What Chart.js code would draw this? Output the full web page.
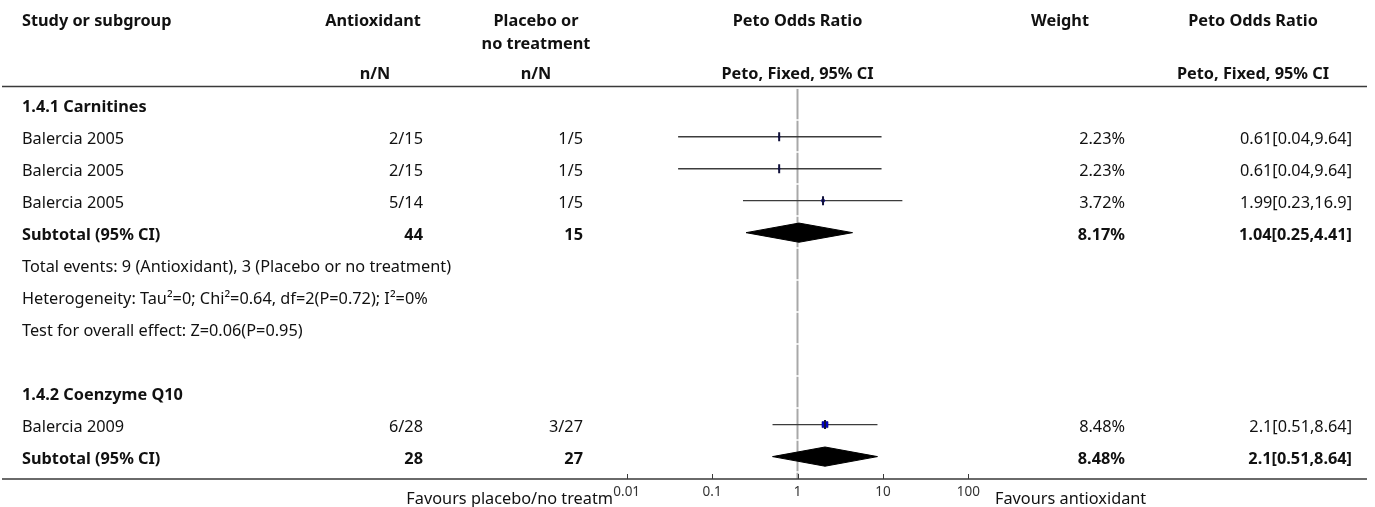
<!DOCTYPE html>
<html>
<head>
<meta charset="utf-8">
<script src="https://cdn.jsdelivr.net/npm/chart.js@4.4.1/dist/chart.umd.min.js"></script>
<style>
  body { margin: 0; background: #fff; }
  #wrap { width: 1375px; height: 507px; }
</style>
</head>
<body>
<div id="wrap"><canvas id="forest"></canvas></div>
<script>
// study rows
const studyNames = ["Balercia 2005", "Balercia 2005", "Balercia 2005", "Balercia 2009"];
const studyRows = [1, 2, 3, 10];
const antioxEvents = ["2/15", "2/15", "5/14", "6/28"];
const placeboEvents = ["1/5", "1/5", "1/5", "3/27"];
const studyOR = [0.61, 0.61, 1.99, 2.1];
const studyLow = [0.04, 0.04, 0.23, 0.51];
const studyHigh = [9.64, 9.64, 16.9, 8.64];
const studyWeight = [2.23, 2.23, 3.72, 8.48];

// subgroups
const groupTitles = ["1.4.1 Carnitines", "1.4.2 Coenzyme Q10"];
const groupTitleRows = [0, 9];
const subtotalRows = [4, 11];
const subtotalAntiox = [44, 28];
const subtotalPlacebo = [15, 27];
const subtotalWeight = [8.17, 8.48];
const subtotalOR = [1.04, 2.1];
const subtotalLow = [0.25, 0.51];
const subtotalHigh = [4.41, 8.64];

const infoLines = [
  "Total events: 9 (Antioxidant), 3 (Placebo or no treatment)",
  "Heterogeneity: Tau\u00b2=0; Chi\u00b2=0.64, df=2(P=0.72); I\u00b2=0%",
  "Test for overall effect: Z=0.06(P=0.95)"
];
const infoRows = [5, 6, 7];

const xTicks = [0.01, 0.1, 1, 10, 100];
const xTickLabels = ["0.01", "0.1", "1", "10", "100"];

const FONT = "'Noto Sans', 'Open Sans', sans-serif";
const SIZE = 16.3;
const DIAMOND_H = 0.3;

const datasets = [];

// line of no effect
datasets.push({
  data: [{ x: 1, y: -0.5 }, { x: 1, y: 11.7 }],
  showLine: true, pointRadius: 0, borderColor: "#a8a8a8", borderWidth: 2,
  borderDash: [30.5, 1.5], order: 5
});

// confidence intervals
studyOR.forEach((v, i) => {
  datasets.push({
    data: [{ x: studyLow[i], y: studyRows[i] }, { x: studyHigh[i], y: studyRows[i] }],
    showLine: true, pointRadius: 0, borderColor: "#3c3c3c", borderWidth: 1.4, order: 3
  });
});

// weighted squares
datasets.push({
  data: studyOR.map((v, i) => ({ x: v, y: studyRows[i] })),
  pointStyle: "rect",
  pointRadius: studyWeight.map(w => (6 * w / 8.48) / Math.SQRT2),
  backgroundColor: "#0000d0", borderColor: "#00007a", borderWidth: 0.6, order: 2
});

// centre ticks
datasets.push({
  data: studyOR.map((v, i) => ({ x: v, y: studyRows[i] })),
  pointStyle: "line", pointRotation: 90, pointRadius: 4.5,
  borderColor: "#10103a", borderWidth: 2, order: 1
});

// subtotal diamonds
subtotalOR.forEach((v, i) => {
  const r = subtotalRows[i];
  datasets.push({
    data: [
      { x: subtotalLow[i], y: r }, { x: v, y: r - DIAMOND_H },
      { x: subtotalHigh[i], y: r }, { x: v, y: r + DIAMOND_H },
      { x: subtotalLow[i], y: r }
    ],
    showLine: true, pointRadius: 0, fill: "shape",
    backgroundColor: "#000", borderColor: "#000", borderWidth: 1, order: 4
  });
});

const tablePlugin = {
  id: "table",
  afterDraw(chart) {
    const ctx = chart.ctx;
    const y = chart.scales.y;
    const x = chart.scales.x;
    const rowY = r => y.getPixelForValue(r) + 2.5;
    const txt = (s, px, py, align, bold) => {
      ctx.font = (bold ? "bold " : "") + SIZE + "px " + FONT;
      ctx.textAlign = align;
      ctx.fillText(s, px, py);
    };
    ctx.save();
    ctx.fillStyle = "#111";
    ctx.textBaseline = "middle";

    // header
    txt("Study or subgroup", 22, 21, "left", true);
    txt("Antioxidant", 373, 21, "center", true);
    txt("Placebo or", 536, 21, "center", true);
    txt("no treatment", 536, 44, "center", true);
    txt("Peto Odds Ratio", 797.5, 21, "center", true);
    txt("Weight", 1060, 21, "center", true);
    txt("Peto Odds Ratio", 1253, 21, "center", true);
    txt("n/N", 375, 74, "center", true);
    txt("n/N", 536, 74, "center", true);
    txt("Peto, Fixed, 95% CI", 797.5, 74, "center", true);
    txt("Peto, Fixed, 95% CI", 1253, 74, "center", true);

    groupTitles.forEach((t, i) => txt(t, 22, rowY(groupTitleRows[i]), "left", true));
    studyNames.forEach((n, i) => {
      const py = rowY(studyRows[i]);
      txt(n, 22, py, "left", false);
      txt(antioxEvents[i], 423, py, "right", false);
      txt(placeboEvents[i], 583, py, "right", false);
      txt(studyWeight[i].toFixed(2) + "%", 1125, py, "right", false);
      txt(studyOR[i] + "[" + studyLow[i] + "," + studyHigh[i] + "]", 1352, py, "right", false);
    });
    subtotalRows.forEach((r, i) => {
      const py = rowY(r);
      txt("Subtotal (95% CI)", 22, py, "left", true);
      txt(String(subtotalAntiox[i]), 423, py, "right", true);
      txt(String(subtotalPlacebo[i]), 583, py, "right", true);
      txt(subtotalWeight[i].toFixed(2) + "%", 1125, py, "right", true);
      txt(subtotalOR[i] + "[" + subtotalLow[i] + "," + subtotalHigh[i] + "]", 1352, py, "right", true);
    });
    infoLines.forEach((t, i) => txt(t, 22, rowY(infoRows[i]), "left", false));

    // rules
    ctx.strokeStyle = "#3a3a3a";
    ctx.lineWidth = 1.6;
    ctx.beginPath();
    ctx.moveTo(2, 86.5); ctx.lineTo(1367, 86.5);
    const by = chart.chartArea.bottom;
    ctx.moveTo(2, by); ctx.lineTo(1367, by);
    ctx.stroke();

    // upward tick marks on the axis
    ctx.lineWidth = 1;
    ctx.beginPath();
    x.ticks.forEach(t => {
      const px = Math.round(x.getPixelForValue(t.value)) + 0.5;
      ctx.moveTo(px, by); ctx.lineTo(px, by - 5);
    });
    ctx.stroke();

    // favours labels
    txt("Favours placebo/no treatm", 613, 499, "right", false);
    txt("Favours antioxidant", 995, 499, "left", false);
    ctx.restore();
  }
};

new Chart(document.getElementById("forest"), {
  type: "scatter",
  data: { datasets },
  options: {
    responsive: true,
    maintainAspectRatio: false,
    animation: false,
    events: [],
    layout: { padding: { left: 626.7, right: 406.7, top: 88.7, bottom: 6.8 } },
    plugins: { legend: { display: false }, tooltip: { enabled: false } },
    scales: {
      x: {
        type: "logarithmic",
        min: 0.01,
        max: 100,
        afterBuildTicks: scale => { scale.ticks = xTicks.map(v => ({ value: v })); },
        afterFit: scale => { scale.height = 21.2; },
        grid: { display: false, drawTicks: false, tickLength: 0 },
        border: { display: false },
        ticks: {
          autoSkip: false, maxRotation: 0, padding: 5,
          color: "#333",
          font: { family: FONT, size: 13.5 },
          callback: (v, i) => xTickLabels[i]
        }
      },
      y: {
        display: false,
        reverse: true,
        min: -0.5,
        max: 11.7
      }
    }
  },
  plugins: [tablePlugin]
});
</script>
</body>
</html>
